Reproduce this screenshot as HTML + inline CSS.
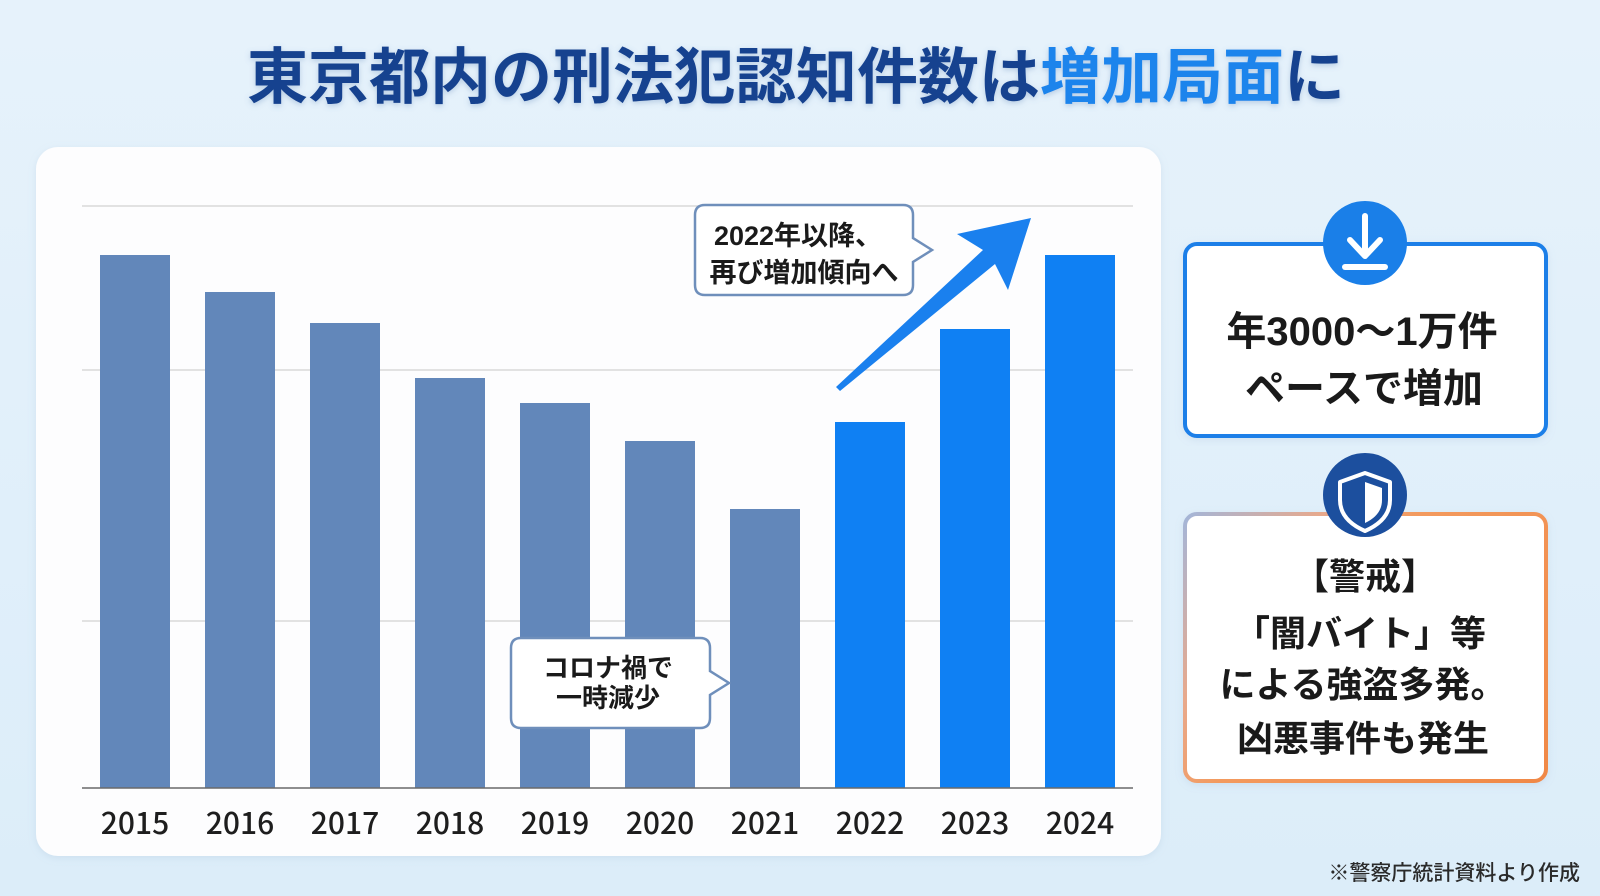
<!DOCTYPE html>
<html lang="ja">
<head>
<meta charset="utf-8">
<style>
  html, body { margin:0; padding:0; }
  body { width:1600px; height:896px; overflow:hidden; background:#e2eff9; }
  svg { display:block; }
  .t { font-family:"Liberation Sans","Noto Sans CJK JP",sans-serif; font-weight:700; }
  .yr { font-family:"Noto Sans CJK JP","Liberation Sans",sans-serif; font-weight:500; }
</style>
</head>
<body>
<svg width="1600" height="896" viewBox="0 0 1600 896" xmlns="http://www.w3.org/2000/svg">
  <defs>
    <linearGradient id="bg" x1="0" y1="0" x2="0" y2="1">
      <stop offset="0" stop-color="#e6f2fb"/>
      <stop offset="1" stop-color="#dcedf9"/>
    </linearGradient>
    <linearGradient id="warn" gradientUnits="userSpaceOnUse" x1="1183" y1="512" x2="1548" y2="783">
      <stop offset="0" stop-color="#a2b6da"/>
      <stop offset="0.25" stop-color="#e8a98c"/>
      <stop offset="0.42" stop-color="#f39a5e"/>
      <stop offset="1" stop-color="#f08846"/>
    </linearGradient>
    <filter id="sh" x="-5%" y="-5%" width="110%" height="110%">
      <feDropShadow dx="0" dy="2" stdDeviation="4" flood-color="#7fa0c0" flood-opacity="0.18"/>
    </filter>
    <filter id="glow" x="-5%" y="-20%" width="110%" height="140%">
      <feDropShadow dx="0" dy="2" stdDeviation="3" flood-color="#5f86b8" flood-opacity="0.35"/>
    </filter>
  </defs>

  <rect x="0" y="0" width="1600" height="896" fill="url(#bg)"/>

  <!-- Title -->
  <text class="t" x="796" y="98" font-size="61" text-anchor="middle" filter="url(#glow)"><tspan fill="#15428f">東京都内の刑法犯認知件数は</tspan><tspan fill="#1a84ec">増加局面</tspan><tspan fill="#15428f">に</tspan></text>

  <!-- Chart card -->
  <rect x="36" y="147" width="1125" height="709" rx="22" fill="#fdfdfe" filter="url(#sh)"/>

  <!-- gridlines -->
  <g stroke="#d9d9d9" stroke-width="1.5">
    <line x1="82" y1="206" x2="1133" y2="206"/>
    <line x1="82" y1="370" x2="1133" y2="370"/>
    <line x1="82" y1="621" x2="1133" y2="621"/>
  </g>

  <!-- bars -->
  <g fill="#6287ba">
    <rect x="100" y="255" width="70" height="533"/>
    <rect x="205" y="292" width="70" height="496"/>
    <rect x="310" y="323" width="70" height="465"/>
    <rect x="415" y="378" width="70" height="410"/>
    <rect x="520" y="403" width="70" height="385"/>
    <rect x="625" y="441" width="70" height="347"/>
    <rect x="730" y="509" width="70" height="279"/>
  </g>
  <g fill="#0f80f3">
    <rect x="835" y="422" width="70" height="366"/>
    <rect x="940" y="329" width="70" height="459"/>
    <rect x="1045" y="255" width="70" height="533"/>
  </g>

  <!-- axis -->
  <line x1="82" y1="788" x2="1133" y2="788" stroke="#6a6a6a" stroke-width="1.5"/>

  <!-- year labels -->
  <g class="yr" font-size="30" fill="#1e1e1e" text-anchor="middle">
    <text x="135" y="834">2015</text>
    <text x="240" y="834">2016</text>
    <text x="345" y="834">2017</text>
    <text x="450" y="834">2018</text>
    <text x="555" y="834">2019</text>
    <text x="660" y="834">2020</text>
    <text x="765" y="834">2021</text>
    <text x="870" y="834">2022</text>
    <text x="975" y="834">2023</text>
    <text x="1080" y="834">2024</text>
  </g>

  <!-- rising arrow -->
  <polygon points="836,387 983,250 957,234 1031,218 1008,290 995,264 840,391" fill="#1a80ee"/>

  <!-- callout 1 -->
  <path d="M705,205 H903 Q913,205 913,215 V238 L932,250 L913,262 V285 Q913,295 903,295 H705 Q695,295 695,285 V215 Q695,205 705,205 Z" fill="#ffffff" stroke="#6f8fbb" stroke-width="2.5"/>
  <g class="t" font-size="27" fill="#1a1a1a" text-anchor="middle">
    <text x="798" y="245">2022年以降、</text>
    <text x="804" y="282">再び増加傾向へ</text>
  </g>

  <!-- callout 2 -->
  <path d="M521,638 H700 Q710,638 710,648 V671 L729,683 L710,695 V718 Q710,728 700,728 H521 Q511,728 511,718 V648 Q511,638 521,638 Z" fill="#ffffff" stroke="#6f8fbb" stroke-width="2.5"/>
  <g class="t" font-size="26" fill="#1a1a1a" text-anchor="middle">
    <text x="608" y="677">コロナ禍で</text>
    <text x="608" y="707">一時減少</text>
  </g>

  <!-- Box 1 -->
  <rect x="1185" y="244" width="361" height="192" rx="12" fill="#ffffff" stroke="#1a7fe8" stroke-width="4" filter="url(#sh)"/>
  <circle cx="1365" cy="243" r="42" fill="#1a7fe8"/>
  <g stroke="#ffffff" stroke-width="6" stroke-linecap="round" stroke-linejoin="round" fill="none">
    <line x1="1365" y1="216" x2="1365" y2="254"/>
    <polyline points="1350,240 1365,256 1380,240"/>
    <line x1="1345" y1="267" x2="1385" y2="267"/>
  </g>
  <g class="t" font-size="40" fill="#1a1a1a" text-anchor="middle">
    <text x="1362" y="345">年3000～1万件</text>
    <text x="1364" y="402">ペースで増加</text>
  </g>

  <!-- Box 2 -->
  <rect x="1185" y="514" width="361" height="267" rx="12" fill="#ffffff" stroke="url(#warn)" stroke-width="4" filter="url(#sh)"/>
  <circle cx="1365" cy="495" r="42" fill="#1c4f9e"/>
  <path d="M1365,473 L1390,482 L1390,500 Q1390,520 1365,531 Q1340,520 1340,500 L1340,482 Z" fill="none" stroke="#ffffff" stroke-width="4" stroke-linejoin="round"/>
  <path d="M1365,482 L1382,488 L1382,500 Q1382,515 1365,523 Z" fill="#ffffff"/>
  <g class="t" font-size="36" fill="#1a1a1a" text-anchor="middle">
    <text x="1365" y="589">【警戒】</text>
    <text x="1360" y="646">「闇バイト」等</text>
    <text x="1363" y="697">による強盗多発。</text>
    <text x="1363" y="751">凶悪事件も発生</text>
  </g>

  <!-- footer -->
  <text class="t" x="1580" y="880" font-size="21" fill="#2a2a2a" text-anchor="end" style="font-weight:500">※警察庁統計資料より作成</text>
</svg>
</body>
</html>
